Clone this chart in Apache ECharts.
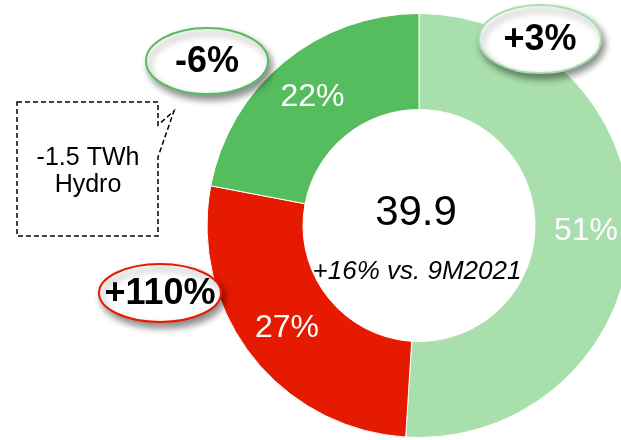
<!DOCTYPE html>
<html>
<head>
<meta charset="utf-8">
<script src="https://cdn.jsdelivr.net/npm/echarts@6/dist/echarts.min.js"></script>
<style>
  html, body { margin: 0; padding: 0; background: #fff; }
  #chart { width: 621px; height: 440px; }
</style>
</head>
<body>
<div id="chart"></div>
<script>
// shares of the total, clockwise from 12 o'clock
var categories = ['Renewables', 'Thermal', 'Hydro'];
var shares = [51, 27, 22];
var changes = ['+3%', '+110%', '-6%'];
var colors = ['#a9dead', '#e61a00', '#55bd5e'];
var total = '39.9';
var totalChange = '+16% vs. 9M2021';
var hydroNote = ['-1.5 TWh', 'Hydro'];

var font = '"Liberation Sans", Arial, sans-serif';

var chart = echarts.init(document.getElementById('chart'));

// bubble with the change vs last year
var bubble = function (cx, cy, rx, ry, border, text) {
    return [
        {
            type: 'ellipse',
            z: 100,
            shape: {cx: cx, cy: cy, rx: rx, ry: ry},
            style: {
                fill: '#fff',
                stroke: border,
                lineWidth: 2,
                shadowBlur: 7,
                shadowOffsetX: 3,
                shadowOffsetY: 5,
                shadowColor: 'rgba(0,0,0,0.45)'
            }
        },
        {
            type: 'text',
            z: 101,
            style: {
                text: text,
                x: cx,
                y: cy + 1,
                textAlign: 'center',
                textVerticalAlign: 'middle',
                font: 'bold 36px ' + font,
                fill: '#000'
            }
        }
    ];
};

var data = categories.map(function (name, i) {
    return {name: name, value: shares[i], itemStyle: {color: colors[i]}};
});

var option = {
    animation: false,
    textStyle: {fontFamily: font},
    series: [
        {
            type: 'pie',
            z: 2,
            center: [419, 225.5],
            radius: [116, 212],
            startAngle: 90,
            clockwise: true,
            avoidLabelOverlap: false,
            silent: true,
            itemStyle: {borderColor: '#fff', borderWidth: 1},
            label: {
                show: true,
                position: 'inside',
                formatter: '{c}%',
                color: '#fff',
                fontSize: 32,
                fontFamily: font
            },
            labelLine: {show: false},
            data: data
        }
    ],
    graphic: [
        {
            type: 'text',
            z: 100,
            style: {
                text: total,
                x: 416,
                y: 213,
                textAlign: 'center',
                textVerticalAlign: 'middle',
                font: '42px ' + font,
                fill: '#000'
            }
        },
        {
            type: 'text',
            z: 100,
            style: {
                text: totalChange,
                x: 417,
                y: 272,
                textAlign: 'center',
                textVerticalAlign: 'middle',
                font: 'italic 26px ' + font,
                fill: '#000'
            }
        },
        {
            type: 'polygon',
            z: 100,
            shape: {
                points: [[17, 102], [158, 102], [158, 125], [174, 111], [158, 157], [158, 236], [17, 236]]
            },
            style: {fill: '#fff', stroke: '#000', lineWidth: 1.5, lineDash: [5, 3]}
        },
        {
            type: 'text',
            z: 101,
            style: {
                text: hydroNote.join('\n'),
                x: 88,
                y: 172,
                textAlign: 'center',
                textVerticalAlign: 'middle',
                lineHeight: 27,
                font: '25px ' + font,
                fill: '#000'
            }
        }
    ].concat(
        bubble(540, 39, 61, 34, colors[0], changes[0]),
        bubble(160, 293, 61, 29, colors[1], changes[1]),
        bubble(207, 61, 61, 33, colors[2], changes[2])
    )
};

chart.setOption(option);
</script>
</body>
</html>
